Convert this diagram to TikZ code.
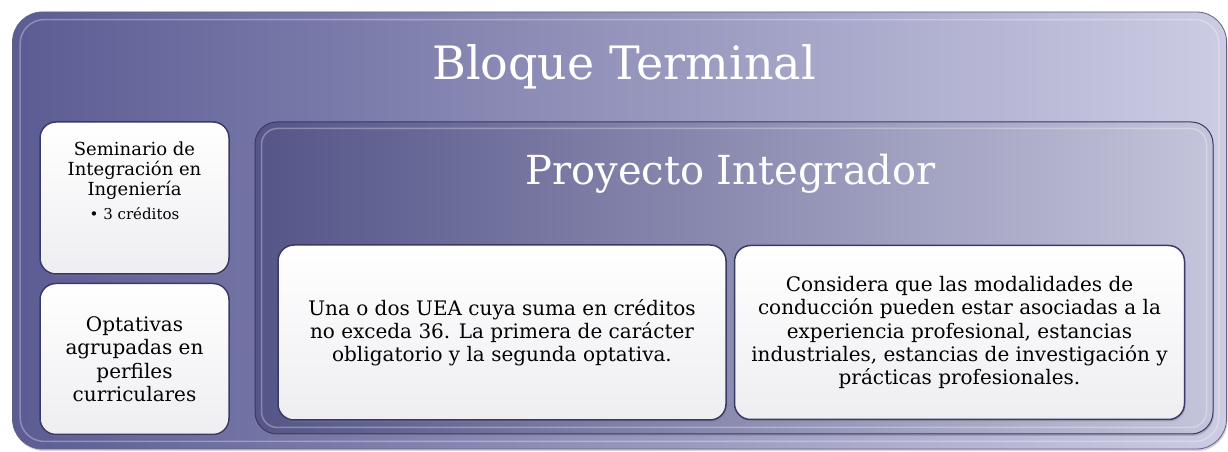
\documentclass[tikz,border=0pt]{standalone}
\usepackage{fontspec}
\setmainfont{DejaVu Serif}
\usetikzlibrary{positioning, shadows}
\definecolor{slateL}{RGB}{92,92,148}
\definecolor{slateR}{RGB}{204,204,228}
\definecolor{edge}{RGB}{58,58,104}
\definecolor{paper}{RGB}{238,238,242}

\begin{document}
\begin{tikzpicture}[x=1pt,y=1pt,
	frame node/.style={rounded corners=30pt,draw=edge!80,line width=0.8pt,
		left color=slateL,right color=slateR,inner sep=0pt,
		drop shadow={opacity=0.35,shadow xshift=1pt,shadow yshift=-2pt}},
	group node/.style={rounded corners=22pt,draw=edge,line width=1pt,
		left color=slateL!92!black,right color=slateR!96!black,inner sep=0pt,
		drop shadow={opacity=0.4,shadow xshift=1pt,shadow yshift=-2pt}},
	card node/.style={rounded corners=16pt,draw=edge,line width=1.5pt,
		top color=white,bottom color=paper,inner sep=0pt,align=center,
		drop shadow={opacity=0.4,shadow xshift=1pt,shadow yshift=-2pt}},
	bevel/.style={rounded corners=#1,draw=white,opacity=0.3,line width=1.5pt},
	title text/.style={text=white,anchor=base,inner sep=0pt}]
	
	\useasboundingbox (0,0) rectangle (1228,452);
	
	% outer block
	\node[frame node,minimum width=1214pt,minimum height=437pt] (bloque) at (619.5,221.5) {};
	\draw[bevel=24pt] ([shift={(8pt,-8pt)}]bloque.north west) rectangle ([shift={(-8pt,8pt)}]bloque.south east);
	\node[title text,font=\fontsize{46}{50}\selectfont] (bloque title) at (624,372) {Bloque Terminal};
	
	% left column
	\node[card node,minimum width=189pt,minimum height=152pt] (seminario) at (134.5,254) {};
	\node[align=center,inner sep=0pt,font=\fontsize{18}{20}\selectfont] (seminario text) at ([yshift=17pt]seminario.center)
		{Seminario de\\Integración en\\Ingeniería\\[4pt]{\fontsize{15}{17}\selectfont • 3 créditos}};
	\node[card node,minimum width=189pt,minimum height=151pt,font=\fontsize{20}{23.5}\selectfont] (optativas) [below=8pt of seminario]
		{Optativas\\agrupadas en\\perfiles\\curriculares};
	
	% proyecto integrador
	\node[group node,minimum width=958pt,minimum height=312pt] (proyecto) at (734,174) {};
	\draw[bevel=16pt] ([shift={(7pt,-7pt)}]proyecto.north west) rectangle ([shift={(-7pt,7pt)}]proyecto.south east);
	\node[title text,font=\fontsize{40}{44}\selectfont] (proyecto title) at (730.5,267) {Proyecto Integrador};
	
	\node[card node,minimum width=448pt,minimum height=175pt,font=\fontsize{20}{23}\selectfont] (uea) at (502,119.5)
		{Una o dos UEA cuya suma en créditos\\no exceda 36. La primera de carácter\\obligatorio y la segunda optativa.};
	\node[card node,minimum width=450pt,minimum height=174pt,font=\fontsize{20}{23.2}\selectfont] (modalidades) [right=7pt of uea]
		{Considera que las modalidades de\\conducción pueden estar asociadas a la\\experiencia profesional, estancias\\industriales, estancias de investigación y\\prácticas profesionales.};
\end{tikzpicture}
\end{document}
